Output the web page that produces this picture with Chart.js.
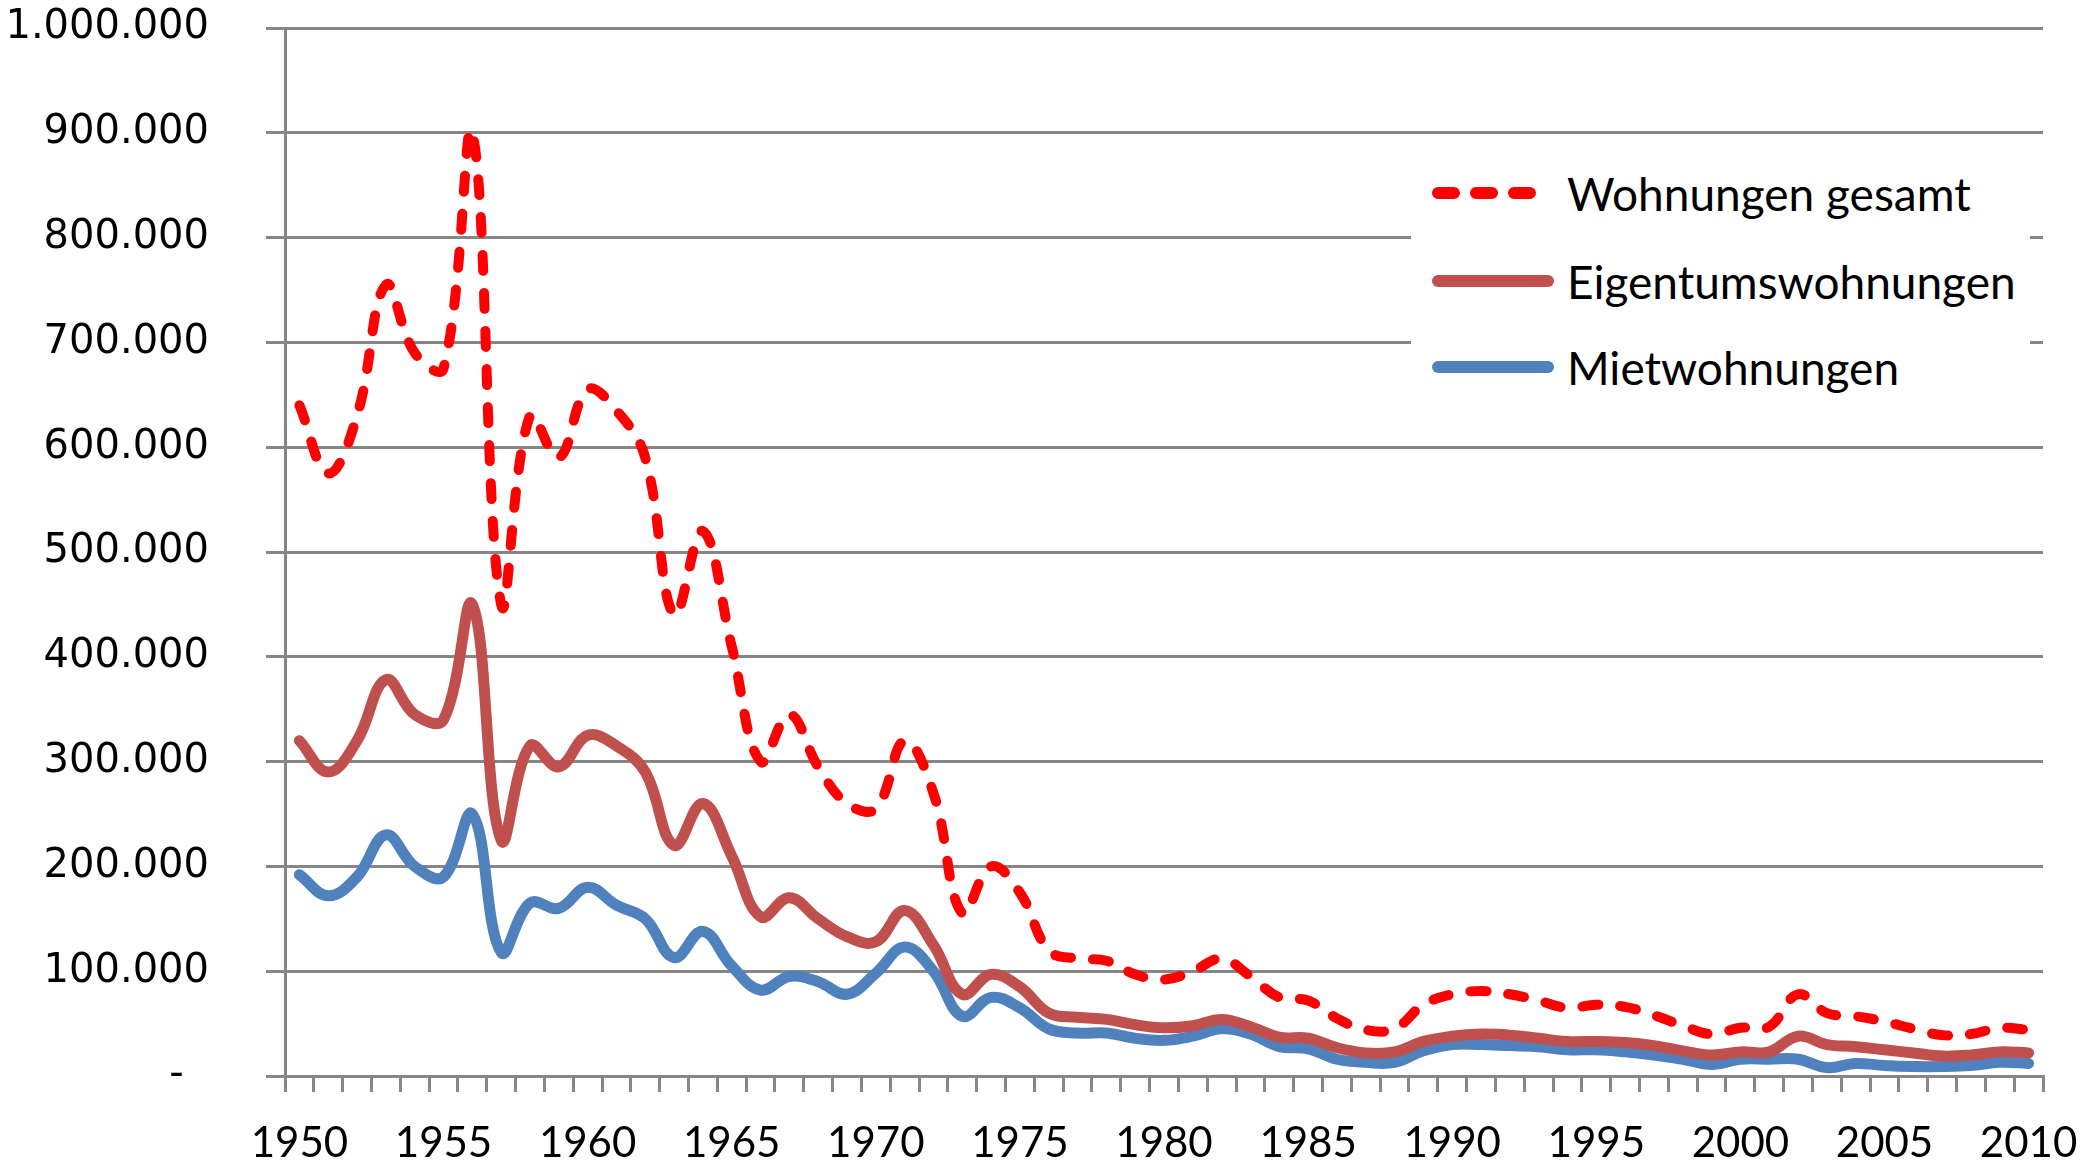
<!DOCTYPE html>
<html>
<head>
<meta charset="utf-8">
<script src="https://cdn.jsdelivr.net/npm/chart.js"></script>
<style>
  body { margin: 0; background: #fff; }
  #wrap { position: relative; width: 2087px; height: 1164px; }
  #legend { position: absolute; left: 1411px; top: 146px; width: 619px; height: 260px; background: #fff; font-family: Lato, sans-serif; font-size: 46px; color: #000; }
  .item { position: absolute; left: 20px; height: 60px; display: flex; align-items: center; white-space: nowrap; }
  .item svg { margin-right: 12px; }
</style>
</head>
<body>
<div id="wrap">
  <canvas id="myChart" width="2087" height="1164"></canvas>
  <div id="legend"></div>
</div>
<script>
  const years = [1950, 1951, 1952, 1953, 1954, 1955, 1956, 1957, 1958, 1959,
    1960, 1961, 1962, 1963, 1964, 1965, 1966, 1967, 1968, 1969,
    1970, 1971, 1972, 1973, 1974, 1975, 1976, 1977, 1978, 1979,
    1980, 1981, 1982, 1983, 1984, 1985, 1986, 1987, 1988, 1989,
    1990, 1991, 1992, 1993, 1994, 1995, 1996, 1997, 1998, 1999,
    2000, 2001, 2002, 2003, 2004, 2005, 2006, 2007, 2008, 2009, 2010];

  // values
  const gesamt = [640000, 575000, 630000, 755000, 690000, 675000, 900000, 450000, 630000, 590000,
    655000, 635000, 590000, 440000, 520000, 410000, 300000, 345000, 295000, 260000,
    255000, 320000, 270000, 155000, 200000, 175000, 120000, 112000, 110000, 97000,
    92000, 100000, 112000, 95000, 75000, 72000, 55000, 44000, 45000, 68000,
    78000, 81000, 78000, 72000, 65000, 68000, 66000, 58000, 48000, 40000,
    46000, 47000, 78000, 60000, 57000, 52000, 45000, 39000, 40000, 46000, 44000];

  const eigentum = [320000, 290000, 320000, 378000, 345000, 340000, 450000, 225000, 315000, 295000,
    325000, 315000, 290000, 220000, 260000, 210000, 152000, 170000, 150000, 133000,
    128000, 158000, 125000, 78000, 97000, 85000, 60000, 56000, 54000, 49000,
    46000, 48000, 54000, 47000, 37000, 36000, 27000, 22000, 23000, 33000,
    38000, 40000, 39000, 36000, 33000, 33000, 32000, 29000, 24000, 20000,
    23000, 23000, 38000, 30000, 28000, 25000, 22000, 19000, 20000, 23000, 22000];

  const miete = [192000, 172000, 190000, 230000, 200000, 190000, 250000, 118000, 165000, 160000,
    180000, 163000, 150000, 113000, 138000, 105000, 82000, 95000, 90000, 78000,
    98000, 123000, 100000, 57000, 75000, 65000, 45000, 41000, 41000, 36000,
    34000, 38000, 45000, 40000, 28000, 26000, 16000, 13000, 13000, 24000,
    30000, 30000, 29000, 28000, 25000, 25000, 23000, 20000, 16000, 11000,
    16000, 16000, 16000, 8000, 12000, 10000, 9000, 9000, 10000, 13000, 12000];

  const seriesNames = ['Wohnungen gesamt', 'Eigentumswohnungen', 'Mietwohnungen'];

  const gridColor = '#868686';

  const ctx = document.getElementById('myChart').getContext('2d');

  const myChart = new Chart(ctx, {
    type: 'line',
    data: {
      labels: years,
      datasets: [{
        label: seriesNames[0],
        data: gesamt,
        borderColor: '#ff0000',
        borderWidth: 10,
        borderDash: [16, 22],
        borderCapStyle: 'round',
        tension: 0.4,
        pointRadius: 0
      }, {
        label: seriesNames[1],
        data: eigentum,
        borderColor: '#c0504d',
        borderWidth: 11,
        borderCapStyle: 'round',
        tension: 0.4,
        pointRadius: 0
      }, {
        label: seriesNames[2],
        data: miete,
        borderColor: '#4f81bd',
        borderWidth: 11,
        borderCapStyle: 'round',
        tension: 0.4,
        pointRadius: 0
      }]
    },
    options: {
      responsive: false,
      animation: false,
      layout: {
        padding: { left: 10, right: 44, top: 0, bottom: 0 }
      },
      plugins: {
        legend: { display: false },
        tooltip: { enabled: false }
      },
      scales: {
        x: {
          offset: true,
          grid: {
            offset: true,
            drawOnChartArea: false,
            drawTicks: true,
            tickLength: 16,
            color: gridColor,
            lineWidth: 3
          },
          border: { color: gridColor, width: 3 },
          ticks: {
            autoSkip: false,
            maxRotation: 0,
            color: '#000',
            padding: 26,
            font: { family: 'Lato', size: 42 },
            callback: function (val, i) {
              const y = years[i];
              return y % 5 === 0 ? String(y) : '';
            }
          },
          afterFit: function (scale) {
            scale.height = 88;
            scale.paddingLeft = 0;
            scale.paddingRight = 0;
          }
        },
        y: {
          min: 0,
          max: 1000000,
          grid: {
            color: gridColor,
            lineWidth: 3,
            tickLength: 19
          },
          border: { color: gridColor, width: 3 },
          ticks: {
            stepSize: 100000,
            color: '#000',
            padding: 57,
            font: { family: 'DejaVu Sans', size: 40 },
            callback: function (v) {
              return v === 0 ? '-  ' : v.toLocaleString('de-DE');
            }
          },
          afterFit: function (scale) {
            scale.width = 275;
            scale.paddingTop = 28;
            scale.paddingBottom = 0;
          }
        }
      }
    }
  });

  // legend sits inside the plot, top right
  const legendEl = document.getElementById('legend');
  const rowTops = [17, 105, 191];
  myChart.data.datasets.forEach(function (ds, i) {
    const item = document.createElement('div');
    item.className = 'item';
    item.style.top = rowTops[i] + 'px';
    const dash = ds.borderDash ? 'stroke-dasharray="16 22"' : '';
    item.innerHTML = '<svg width="124" height="20"><line x1="7" y1="10" x2="117" y2="10" stroke="' +
      ds.borderColor + '" stroke-width="12" stroke-linecap="round" ' + dash + '/></svg>' +
      '<span>' + ds.label + '</span>';
    legendEl.appendChild(item);
  });
</script>
</body>
</html>
